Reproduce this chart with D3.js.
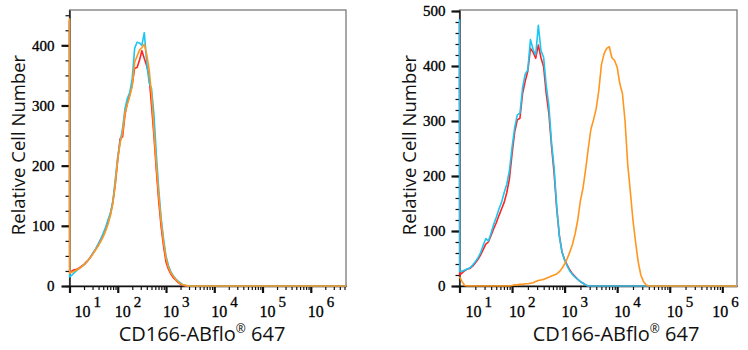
<!DOCTYPE html>
<html><head><meta charset="utf-8">
<script src="https://cdn.jsdelivr.net/npm/d3@7"></script>
<style>body{margin:0;background:#fff} svg{display:block}</style>
</head><body><svg id="c" width="748" height="350"></svg>
<script>
// log10 of fluorescence intensity for each histogram bin (shared)
const gridLog = [1.0,1.005,1.05,1.10,1.15,1.20,1.25,1.30,1.35,1.40,1.45,1.50,1.55,1.60,1.65,1.70,1.75,1.80,1.85,1.90,1.95,
  2.00,2.05,2.10,2.15,2.20,2.25,2.30,2.35,2.40,2.45,2.50,2.55,2.60,2.65,2.70,2.75,2.80,2.85,2.90,2.95,
  3.00,3.05,3.10,3.15,3.20,3.25,3.30,3.35,3.40,3.45,3.50,3.55,3.60,3.65,3.70,3.75,3.80,3.85,3.90,3.95,
  4.00,4.05,4.10,4.15,4.20,4.25,4.30,4.35,4.40,4.45,4.50,4.55,4.60];
const leftEndLog = 6.73, rightEndLog = 6.28;

// Left panel counts
const leftRed = [440,24,25,27,28,30,33,36,40,44,50,56,62,70,78,85,94,108,120,140,170,210,245,248,285,305,318,335,362,363,375,391,378,366,348,300,250,192,140,98,66,40,28,20,14,10,6,3,1,0,0,
  0,0,0,0,0,0,0,0,0,0,0,0,0,0,0,0,0,0,0,0,0,0,0,0];
const leftCyan = [442,15,18,22,26,29,32,35,39,44,50,56,63,70,78,88,98,110,122,142,178,215,240,262,295,312,322,345,395,405,404,400,421,372,338,328,285,218,160,112,78,50,34,24,17,12,8,5,2,1,0,
  0,0,0,0,0,0,0,0,0,0,0,0,0,0,0,0,0,0,0,0,0,0,0,0];
const leftOrange = [445,21,23,25,27,29,32,35,39,44,49,55,61,67,74,82,92,103,118,138,172,212,238,255,288,302,316,332,372,382,392,396,402,385,360,318,258,200,150,106,72,46,31,22,16,11,7,4,2,1,0,
  0,0,0,0,0,0,0,0,0,0,0,0,0,0,0,0,0,0,0,0,0,0,0,0];

// Right panel counts
const rightRed = [480,20,24,28,31,32,36,42,48,56,66,76,80,92,104,115,128,140,152,170,195,240,280,302,305,350,372,391,432,425,414,438,415,399,350,314,255,205,140,92,62,48,38,29,22,17,12,8,5,2,0,
  0,0,0,0,0,0,0,0,0,0,0,0,0,0,0,0,0,0,0,0,0,0,0,0];
const rightCyan = [485,26,27,29,31,33,38,44,51,60,74,86,82,96,112,125,140,152,170,185,210,252,288,311,314,360,385,393,448,430,420,474,428,416,365,328,262,215,145,90,62,47,36,27,21,16,12,8,5,2,0,
  0,0,0,0,0,0,0,0,0,0,0,0,0,0,0,0,0,0,0,0,0,0,0,0];
const rightOrange = [17,16,8,1,0,0,0,0,0,0,0,0,0,0,0,0,0,0,0,0,0,1,2,2,3,3,4,4,5,6,8,10,11,12,14,16,18,20,22,26,32,40,50,62,76,95,120,155,178,212,250,
  285,302,322,355,402,422,432,435,415,410,398,368,350,300,222,172,120,80,44,20,8,2,0,0];

const seriesColors = {red:"#ff2323", cyan:"#1cc6f2", orange:"#ff961e"};
const xTickExps = [1,2,3,4,5,6];
const leftYMajor = [0,100,200,300,400];
const rightYMajor = [0,100,200,300,400,500];
const xTitleMain = "CD166-ABflo", xTitleMark = "\u00AE", xTitleTail = " 647";
const yTitle = "Relative Cell Number";

const svg = d3.select("#c");
const serif = "'Liberation Serif','Times New Roman',serif";
const sans = "'Open Sans','Noto Sans',sans-serif";

function panel(cfg){
  const x = d3.scaleLog().domain([10, Math.pow(10, cfg.endLog)]).range([cfg.x0, cfg.x1]);
  const y = d3.scaleLinear().domain([0, cfg.yMax]).range([cfg.yb, cfg.yt]);
  const g = svg.append("g");
  // frame
  g.append("rect").attr("x", cfg.x0).attr("y", cfg.yt).attr("width", cfg.x1 - cfg.x0).attr("height", cfg.yb - cfg.yt)
    .attr("fill","none").attr("stroke","#6e6e6e").attr("stroke-width",1.2);
  // y minor
  const minor = d3.range(0, cfg.yMax, cfg.minorStep);
  const gym = g.append("g").attr("transform",`translate(${cfg.x0},0)`)
    .call(d3.axisLeft(y).tickValues(minor).tickSize(4).tickFormat(""));
  gym.select(".domain").remove();
  gym.selectAll("line").attr("stroke","#111").attr("stroke-width",1.2);
  const gy = g.append("g").attr("transform",`translate(${cfg.x0},0)`)
    .call(d3.axisLeft(y).tickValues(cfg.yMajor).tickSize(8).tickSizeOuter(0).tickPadding(cfg.yPad).tickFormat(d3.format("d")));
  gy.select(".domain").attr("stroke","#111").attr("stroke-width",1.4);
  gy.selectAll("line").attr("stroke","#111").attr("stroke-width",2.2);
  gy.selectAll("text").attr("font-family",serif).attr("font-size",15).attr("fill","#000")
    .attr("stroke","#000").attr("stroke-width",0.35);
  // x minor
  const xmin = [];
  for (let e = 1; e <= 6; e++) for (let m = 2; m <= 9; m++) { const v = m*Math.pow(10,e); if (v <= x.domain()[1]) xmin.push(v); }
  const gxm = g.append("g").attr("transform",`translate(0,${cfg.yb})`)
    .call(d3.axisBottom(x).tickValues(xmin).tickSize(4).tickFormat(""));
  gxm.select(".domain").remove();
  gxm.selectAll("line").attr("stroke","#111").attr("stroke-width",1.2);
  const gx = g.append("g").attr("transform",`translate(0,${cfg.yb})`)
    .call(d3.axisBottom(x).tickValues(xTickExps.map(e => Math.pow(10,e))).tickSize(7).tickSizeOuter(0).tickFormat(""));
  gx.select(".domain").attr("stroke","#111").attr("stroke-width",1.4);
  gx.selectAll("line").attr("stroke","#111").attr("stroke-width",2.2);
  // curves (drawn above the axes, like the reference's edge spike)
  const xs = gridLog.concat([cfg.endLog]);
  const line = d3.line().x(d => x(Math.pow(10, d[0]))).y(d => y(d[1]));
  cfg.series.forEach(s => {
    const pts = xs.map((e,i) => [e, s.values[i]]);
    g.append("path").datum(pts).attr("d", line).attr("fill","none")
      .attr("stroke", seriesColors[s.color]).attr("stroke-width",1.6).attr("stroke-linejoin","round");
  });
  // x tick labels 10^n
  xTickExps.forEach(e => {
    const shift = e === 1 ? cfg.firstShift : (e === 6 ? cfg.lastShift : -3);
    const px = x(Math.pow(10,e)) + shift;
    const t = g.append("text").attr("x", px).attr("y", cfg.yb + 31)
      .attr("font-family", serif).attr("font-size", 16).attr("fill","#000").attr("stroke","#000").attr("stroke-width",0.3);
    t.append("tspan").text("10");
    t.append("tspan").attr("dx", 3).attr("dy", -10).attr("font-size",15).text(String(e));
  });
  // titles
  const xt = g.append("text").attr("x", cfg.xTitleX).attr("y", 341).attr("text-anchor","middle")
    .attr("font-family", sans).attr("font-size", 20).attr("fill","#111");
  xt.append("tspan").text(xTitleMain);
  xt.append("tspan").attr("font-size", 12).attr("dy", -8).text(xTitleMark);
  xt.append("tspan").attr("dy", 8).text(xTitleTail);
  g.append("text").attr("transform", `translate(${cfg.yTitleX},${cfg.yTitleY}) rotate(-90)`)
    .attr("text-anchor","middle").attr("font-family", sans).attr("font-size", 18.5).attr("fill","#111").text(yTitle);
}

panel({x0:69.5, x1:346, yt:10, yb:286, endLog:leftEndLog, yMax:458.7, minorStep:25, yMajor:leftYMajor, yPad:7,
  firstShift:5, lastShift:-3, xTitleX:202, yTitleX:25, yTitleY:145,
  series:[{color:"red",values:leftRed},{color:"cyan",values:leftCyan},{color:"orange",values:leftOrange}]});
panel({x0:459.5, x1:737, yt:10, yb:286, endLog:rightEndLog, yMax:501.8, minorStep:20, yMajor:rightYMajor, yPad:6,
  firstShift:6, lastShift:-10, xTitleX:616, yTitleX:415.5, yTitleY:145,
  series:[{color:"red",values:rightRed},{color:"cyan",values:rightCyan},{color:"orange",values:rightOrange}]});
</script>
</body></html>
